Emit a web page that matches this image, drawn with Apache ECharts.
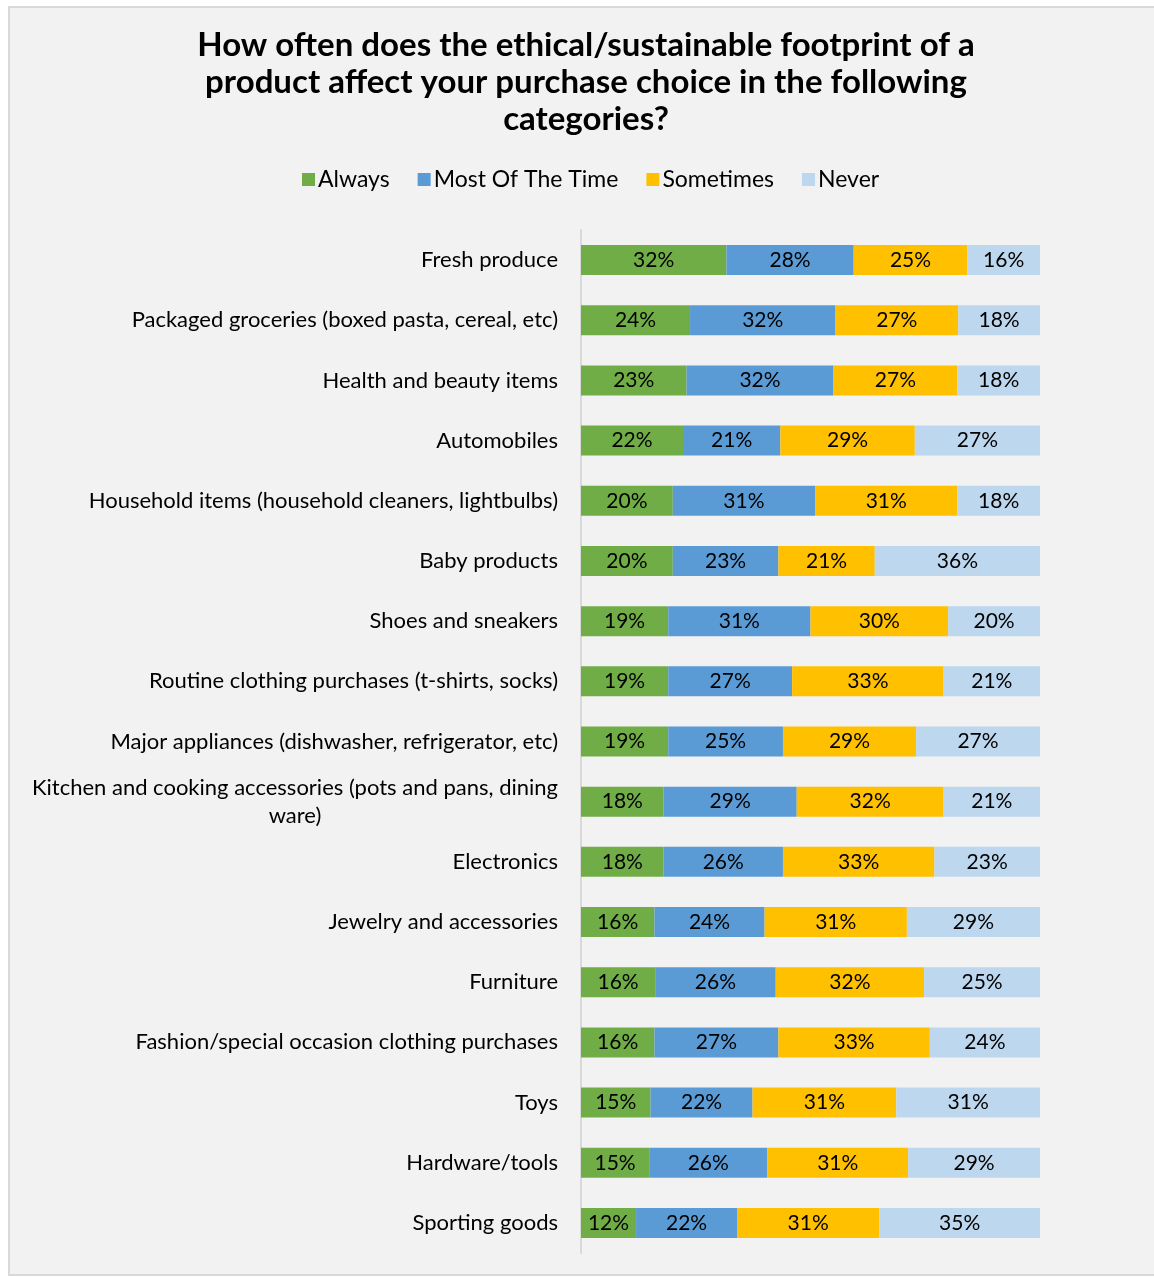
<!DOCTYPE html>
<html>
<head>
<meta charset="utf-8">
<script src="https://cdn.jsdelivr.net/npm/echarts@6/dist/echarts.min.js"></script>
<style>
  html, body { margin: 0; padding: 0; background: #ffffff; }
  #chart { width: 1154px; height: 1277px; }
</style>
</head>
<body>
<div id="chart"></div>
<script>
// Product categories, top to bottom
const categories = [
  'Fresh produce',
  'Packaged groceries (boxed pasta, cereal, etc)',
  'Health and beauty items',
  'Automobiles',
  'Household items (household cleaners, lightbulbs)',
  'Baby products',
  'Shoes and sneakers',
  'Routine clothing purchases (t-shirts, socks)',
  'Major appliances (dishwasher, refrigerator, etc)',
  'Kitchen and cooking accessories (pots and pans, dining ware)',
  'Electronics',
  'Jewelry and accessories',
  'Furniture',
  'Fashion/special occasion clothing purchases',
  'Toys',
  'Hardware/tools',
  'Sporting goods'
];

// Share of respondents (%) per answer
const always      = [32, 24, 23, 22, 20, 20, 19, 19, 19, 18, 18, 16, 16, 16, 15, 15, 12];
const mostOfTime  = [28, 32, 32, 21, 31, 23, 31, 27, 25, 29, 26, 24, 26, 27, 22, 26, 22];
const sometimes   = [25, 27, 27, 29, 31, 21, 30, 33, 29, 32, 33, 31, 32, 33, 31, 31, 31];
const never       = [16, 18, 18, 27, 18, 36, 20, 21, 27, 21, 23, 29, 25, 24, 31, 29, 35];

const seriesNames = ['Always', 'Most Of The Time', 'Sometimes', 'Never'];
const seriesValues = [always, mostOfTime, sometimes, never];
const colors = ['#70ad47', '#5b9bd5', '#ffc000', '#bdd7ee'];

// 100% stacked: each row is scaled so its segments fill the full width
const rowTotals = categories.map((_, i) =>
  seriesValues.reduce((s, arr) => s + arr[i], 0));

const FONT = 'Lato, "Open Sans", sans-serif';

function wrapLabel(text, maxChars) {
  if (text.length <= maxChars) return null;
  const words = text.split(' ');
  const lines = [];
  let cur = '';
  words.forEach(w => {
    const next = cur ? cur + ' ' + w : w;
    if (next.length > maxChars && cur) { lines.push(cur); cur = w; }
    else cur = next;
  });
  if (cur) lines.push(cur);
  return lines;
}

const chart = echarts.init(document.getElementById('chart'), null, { renderer: 'canvas' });

chart.setOption({
  backgroundColor: '#ffffff',
  animation: false,
  graphic: [{
    type: 'rect',
    z: -10,
    silent: true,
    shape: { x: 9, y: 7, width: 1200, height: 1268 },
    style: { fill: '#f2f2f2', stroke: '#d9d9d9', lineWidth: 2 }
  }],
  title: {
    text: 'How often does the ethical/sustainable footprint of a\nproduct affect your purchase choice in the following\ncategories?',
    left: 586,
    textAlign: 'center',
    top: 27,
    padding: 0,
    textStyle: {
      fontFamily: FONT,
      fontWeight: 'bold',
      fontSize: 33,
      lineHeight: 37,
      color: '#000000'
    }
  },
  legend: {
    data: seriesNames,
    left: 302,
    top: 168,
    padding: 0,
    icon: 'rect',
    itemWidth: 13,
    itemHeight: 13,
    itemGap: 28,
    textStyle: { fontFamily: FONT, fontSize: 23, color: '#000000', padding: [0, 0, 0, -2] }
  },
  grid: { left: 581, right: 114, top: 230, bottom: 24, containLabel: false },
  xAxis: {
    type: 'value',
    min: 0,
    max: 100,
    show: false
  },
  yAxis: {
    type: 'category',
    data: categories,
    inverse: true,
    axisLine: { show: true, lineStyle: { color: '#d9d9d9', width: 2 } },
    axisTick: { show: false },
    axisLabel: {
      margin: 23,
      fontFamily: FONT,
      fontSize: 22,
      color: '#000000',
      formatter: function (v) {
        const lines = wrapLabel(v, 55);
        if (!lines) return v;
        return lines.map(l => '{c|' + l + '}').join('\n');
      },
      rich: {
        c: { align: 'center', fontFamily: FONT, fontSize: 22, color: '#000000', lineHeight: 28 }
      }
    }
  },
  series: seriesNames.map((name, k) => ({
    name: name,
    type: 'bar',
    stack: 'total',
    barWidth: 30,
    itemStyle: { color: colors[k] },
    label: {
      show: true,
      position: 'inside',
      fontFamily: FONT,
      fontSize: 21,
      color: '#000000',
      formatter: p => seriesValues[k][p.dataIndex] + '%'
    },
    data: seriesValues[k].map((v, i) => v / rowTotals[i] * 100)
  }))
});
</script>
</body>
</html>
